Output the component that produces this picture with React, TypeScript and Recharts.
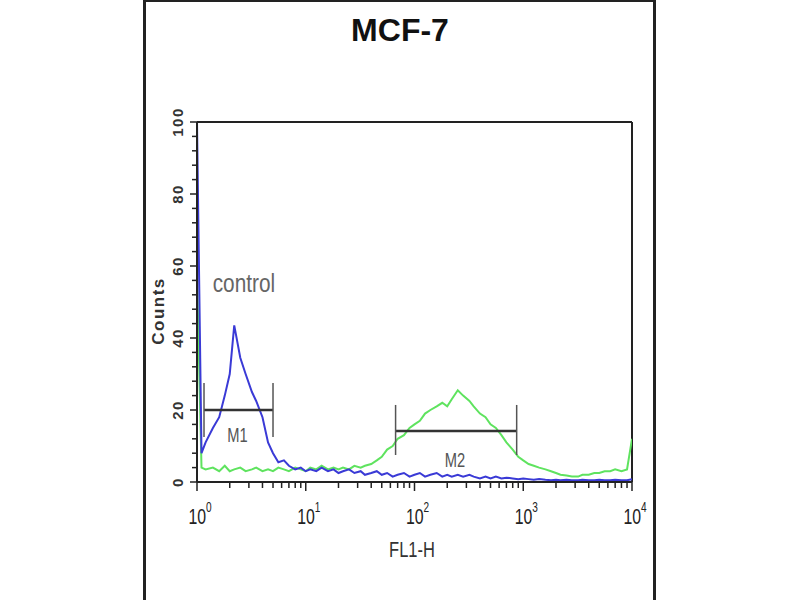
import { LineChart, Line, XAxis, YAxis, ReferenceLine, ReferenceDot } from "recharts";

// FL1-H channel values (log axis)
const fl1 = [
  1, 1.1, 1.2, 1.4, 1.6, 1.8, 2, 2.2, 2.5, 2.8,
  3.2, 3.5, 4, 4.5, 5, 5.6, 6.3, 7, 8, 9,
  10, 11, 12.5, 14, 16, 18, 20, 22, 25, 28,
  32, 35, 40, 45, 50, 56, 63, 70, 80, 90,
  100, 112, 125, 140, 160, 180, 200, 220, 250, 280,
  320, 350, 400, 450, 500, 560, 630, 700, 800, 900,
  1000, 1120, 1250, 1400, 1600, 1800, 2000, 2200, 2500, 2800,
  3200, 3500, 4000, 4500, 5000, 5600, 6300, 7000, 8000, 9000,
  10000,
];

const controlCounts = [
  100, 8, 11, 15, 18, 24, 30, 43.5, 34.5, 30,
  25, 22.5, 18, 11, 8, 5.5, 6, 4.5, 3.5, 4,
  3, 3.5, 3, 4, 3, 3.5, 2.5, 3, 3.5, 2.5,
  3, 2, 2.5, 3, 2, 2.5, 1.5, 2, 2.5, 1.5,
  2, 2.5, 1.5, 2, 2.5, 1.5, 2, 1.5, 2, 1.5,
  2, 1.5, 1, 1.5, 1, 1.5, 1, 1.2, 1, 0.8,
  1, 0.8, 0.6, 0.8, 0.6, 0.5, 0.6, 0.5, 0.6, 0.5,
  0.5, 0.6, 0.5, 0.5, 0.6, 0.5, 0.5, 0.6, 0.5, 0.5,
  0.8,
];

const sampleCounts = [
  58, 4, 3.5, 4, 3, 4.5, 3, 3.5, 4, 3,
  3.5, 4, 3, 3.5, 3, 4, 3.5, 3, 4, 3.5,
  3, 4, 3.5, 4.5, 3.5, 4, 3.5, 4, 3.5, 4.5,
  4, 4.5, 5, 6, 7, 9, 10, 12, 13, 15,
  16, 17, 19, 20, 21, 22, 21, 23, 25.5, 24,
  22.5, 21, 19, 18, 16, 15, 13, 11, 9, 7,
  6, 5, 4.5, 4, 3.5, 3, 2.5, 2, 1.8, 1.5,
  1.5, 2, 2, 2.5, 2.5, 3, 3, 3.5, 3, 3.5,
  12,
];

const xTicks = [
  1, 2, 3, 4, 5, 6, 7, 8, 9,
  10, 20, 30, 40, 50, 60, 70, 80, 90,
  100, 200, 300, 400, 500, 600, 700, 800, 900,
  1000, 2000, 3000, 4000, 5000, 6000, 7000, 8000, 9000,
  10000,
];
const yTicks = [0, 4, 8, 12, 16, 20, 24, 28, 32, 36, 40, 44, 48, 52, 56, 60, 64, 68, 72, 76, 80, 84, 88, 92, 96, 100];
const yLabels = [0, 20, 40, 60, 80, 100];

const gates = [
  { name: "M1", from: 1.16, to: 5.0, level: 20, top: 27.5, bottom: 12.5, labelX: 2.35, labelY: 11 },
  { name: "M2", from: 67, to: 870, level: 14.2, top: 21.4, bottom: 7.5, labelX: 235, labelY: 4.3 },
];

const data = fl1.map((x, i) => ({ x, control: controlCounts[i], sample: sampleCounts[i] }));

const ink = "#222";

const XTick = ({ x, y, payload }: any) => {
  const v = payload.value;
  const exp = Math.round(Math.log10(v));
  const major = Math.abs(Math.pow(10, exp) - v) < 1e-6;
  return (
    <g>
      <line x1={x} x2={x} y1={y} y2={y + (major ? 9 : 6)} stroke={ink} strokeWidth={1.5} />
      {major && (
        <g transform={`translate(${x + 3},${y + 42})`}>
          <text transform="scale(0.72,1)" textAnchor="middle" fontSize={22} fill="#222" fontFamily="Arial, 'Liberation Sans'">
            10<tspan dy={-12} fontSize={14}>{exp}</tspan>
          </text>
        </g>
      )}
    </g>
  );
};

const YTick = ({ x, y, payload }: any) => {
  const v = payload.value;
  const major = yLabels.includes(v);
  return (
    <g>
      <line x1={x - (major ? 7 : 5)} x2={x} y1={y} y2={y} stroke={ink} strokeWidth={1.5} />
      {major && (
        <text
          x={x - 14}
          y={y}
          transform={`rotate(-90 ${x - 14} ${y})`}
          textAnchor="middle"
          fontSize={15}
          fontWeight="bold"
          letterSpacing={1.5}
          fill="#333"
          fontFamily="Arial, 'Liberation Sans'"
        >
          {v}
        </text>
      )}
    </g>
  );
};

const GateLabel = ({ viewBox, value }: any) => (
  <g transform={`translate(${viewBox.x},${viewBox.y})`}>
    <text transform="scale(0.7,1)" textAnchor="middle" fontSize={21} fill="#555" fontFamily="Arial, 'Liberation Sans'">
      {value}
    </text>
  </g>
);

const ControlLabel = ({ viewBox }: any) => (
  <g transform={`translate(${viewBox.x},${viewBox.y})`}>
    <text transform="scale(0.8,1)" textAnchor="middle" fontSize={26} fill="#666" fontFamily="Arial, 'Liberation Sans'">
      control
    </text>
  </g>
);

export default function App() {
  return (
    <div style={{ position: "absolute", left: 0, top: 0, width: 800, height: 600, background: "#fff", overflow: "hidden" }}>
      <div style={{ position: "absolute", left: 143, top: 0, width: 3, height: 600, background: "#222" }} />
      <div style={{ position: "absolute", left: 653, top: 0, width: 3, height: 600, background: "#222" }} />
      <div style={{ position: "absolute", left: 143, top: 0, width: 513, height: 2, background: "#222" }} />
      <svg width={800} height={600} style={{ position: "absolute", left: 0, top: 0 }}>
        <text x={400} y={41} textAnchor="middle" fontSize={32} fontWeight="bold" fill="#111" fontFamily="Arial, 'Liberation Sans'">
          MCF-7
        </text>
        <text
          x={164}
          y={311}
          transform="rotate(-90 164 311)"
          textAnchor="middle"
          fontSize={17}
          fontWeight="bold"
          letterSpacing={1.5}
          fill="#333"
          fontFamily="Arial, 'Liberation Sans'"
        >
          Counts
        </text>
        <g transform="translate(412,557)">
          <text transform="scale(0.75,1)" textAnchor="middle" fontSize={22} fill="#333" fontFamily="Arial, 'Liberation Sans'">
            FL1-H
          </text>
        </g>
      </svg>
      <div style={{ position: "absolute", left: 0, top: 0 }}>
        <LineChart width={800} height={600} data={data} margin={{ top: 122, right: 168, bottom: 58, left: 137 }}>
          <XAxis
            dataKey="x"
            type="number"
            scale="log"
            domain={[1, 10000]}
            allowDataOverflow
            ticks={xTicks}
            interval={0}
            tickSize={0}
            tickMargin={0}
            tickLine={false}
            tick={<XTick />}
            height={60}
            axisLine={{ stroke: ink, strokeWidth: 2 }}
          />
          <YAxis
            type="number"
            domain={[0, 100]}
            allowDataOverflow
            ticks={yTicks}
            interval={0}
            tickSize={0}
            tickMargin={0}
            tickLine={false}
            tick={<YTick />}
            width={60}
            axisLine={{ stroke: ink, strokeWidth: 2 }}
          />
          <ReferenceLine y={100} stroke={ink} strokeWidth={2} />
          <ReferenceLine x={10000} stroke={ink} strokeWidth={2} />
          <Line dataKey="sample" type="linear" stroke="#5fe35f" strokeWidth={2} dot={false} isAnimationActive={false} />
          <Line dataKey="control" type="linear" stroke="#3a3ad6" strokeWidth={2} dot={false} isAnimationActive={false} />
          {gates.map((g) => (
            <ReferenceLine
              key={g.name + "h"}
              segment={[{ x: g.from, y: g.level }, { x: g.to, y: g.level }]}
              stroke="#333"
              strokeWidth={2.5}
            />
          ))}
          {gates.map((g) => (
            <ReferenceLine
              key={g.name + "l"}
              segment={[{ x: g.from, y: g.bottom }, { x: g.from, y: g.top }]}
              stroke="#555"
              strokeWidth={1.5}
            />
          ))}
          {gates.map((g) => (
            <ReferenceLine
              key={g.name + "r"}
              segment={[{ x: g.to, y: g.bottom }, { x: g.to, y: g.top }]}
              stroke="#555"
              strokeWidth={1.5}
            />
          ))}
          {gates.map((g) => (
            <ReferenceDot
              key={g.name + "t"}
              x={g.labelX}
              y={g.labelY}
              r={0}
              fill="none"
              stroke="none"
              label={<GateLabel value={g.name} />}
            />
          ))}
          <ReferenceDot x={2.7} y={52.8} r={0} fill="none" stroke="none" label={<ControlLabel />} />
        </LineChart>
      </div>
    </div>
  );
}
